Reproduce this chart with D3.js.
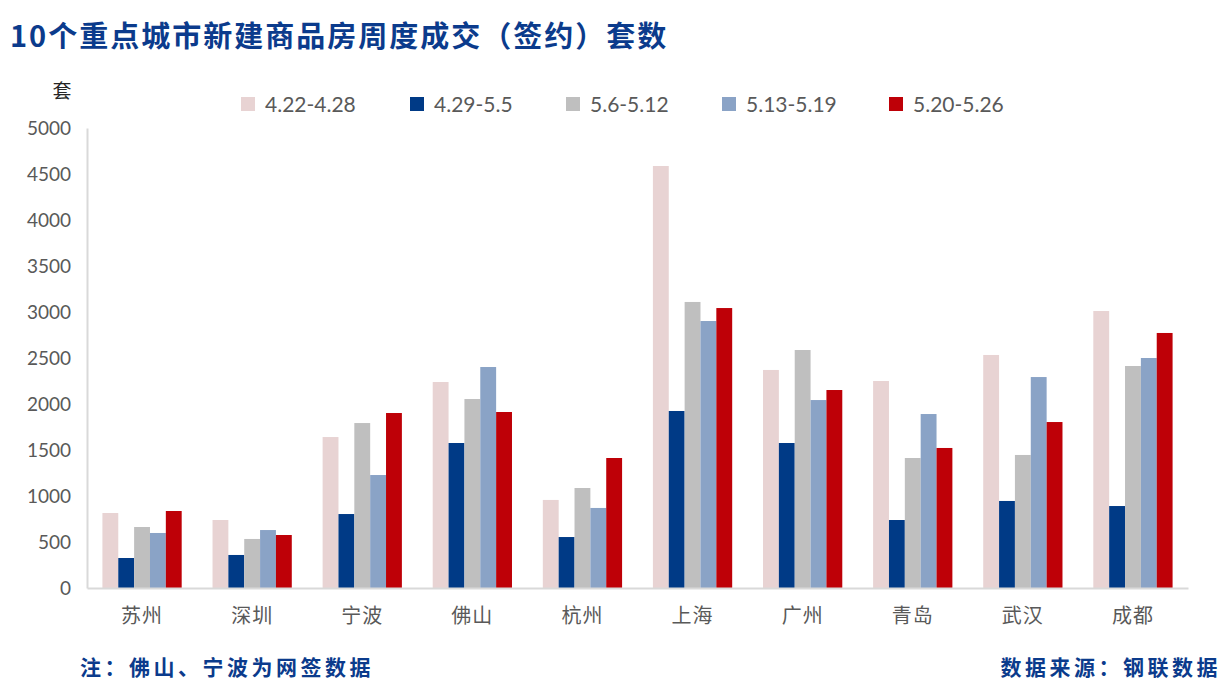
<!DOCTYPE html>
<html>
<head>
<meta charset="utf-8">
<script src="https://cdn.jsdelivr.net/npm/d3@7"></script>
<style>
  body { margin: 0; background: #fff; }
  svg { display: block; }
</style>
</head>
<body>
<div id="chart"></div>
<script>
// data
const cities = ['苏州', '深圳', '宁波', '佛山', '杭州', '上海', '广州', '青岛', '武汉', '成都'];
const weeks = ['4.22-4.28', '4.29-5.5', '5.6-5.12', '5.13-5.19', '5.20-5.26'];
const w0422 = [815, 739, 1641, 2239, 957, 4587, 2370, 2250, 2533, 3011];
const w0429 = [326, 359, 804, 1576, 554, 1924, 1576, 739, 946, 891];
const w0506 = [663, 533, 1793, 2054, 1087, 3109, 2587, 1413, 1446, 2413];
const w0513 = [598, 630, 1228, 2402, 870, 2902, 2043, 1891, 2293, 2500];
const w0520 = [837, 576, 1902, 1913, 1413, 3043, 2152, 1522, 1804, 2772];
const yTicks = [0, 500, 1000, 1500, 2000, 2500, 3000, 3500, 4000, 4500, 5000];

const seriesValues = [w0422, w0429, w0506, w0513, w0520];
const colors = ['#e8d3d3', '#003a86', '#bfbfbf', '#8aa3c6', '#be0007'];

const width = 1222, height = 681;
const margin = { left: 87, right: 34, top: 128, bottom: 93 };
const cjk = '"Noto Sans CJK SC", sans-serif';
const latin = 'Lato, "Noto Sans", sans-serif';

const svg = d3.select('#chart').append('svg')
  .attr('width', width)
  .attr('height', height);

const x = d3.scaleBand()
  .domain(cities)
  .range([margin.left, width - margin.right])
  .paddingInner(0.28)
  .paddingOuter(0.14);

const xInner = d3.scaleBand()
  .domain(weeks)
  .range([0, x.bandwidth()]);

const y = d3.scaleLinear()
  .domain([0, 5000])
  .range([height - margin.bottom, margin.top]);

// title
svg.append('text')
  .attr('x', 10)
  .attr('y', 47)
  .style('font-family', cjk)
  .style('font-size', '29px')
  .style('font-weight', 'bold')
  .style('letter-spacing', '2px')
  .style('fill', '#0b3b8c')
  .text('10个重点城市新建商品房周度成交（签约）套数');

// unit
svg.append('text')
  .attr('x', 62)
  .attr('y', 98)
  .attr('text-anchor', 'middle')
  .style('font-family', cjk)
  .style('font-size', '19px')
  .style('fill', '#262626')
  .text('套');

// bars
const groups = svg.append('g').selectAll('g')
  .data(weeks)
  .enter()
  .append('g')
  .style('fill', (d, i) => colors[i]);

groups.selectAll('rect')
  .data((d, i) => seriesValues[i].map((v, j) => ({ week: d, city: cities[j], value: v })))
  .enter()
  .append('rect')
  .attr('x', d => x(d.city) + xInner(d.week))
  .attr('width', xInner.bandwidth())
  .attr('y', d => y(d.value))
  .attr('height', d => y(0) - y(d.value));

// y axis
const yAxis = svg.append('g')
  .attr('transform', `translate(${margin.left},0)`)
  .call(d3.axisLeft(y).tickValues(yTicks).tickFormat(d3.format('d')).tickSize(0).tickPadding(16));
yAxis.select('.domain').attr('stroke', '#d9d9d9').attr('stroke-width', 2);
yAxis.selectAll('text')
  .style('font-family', latin)
  .style('font-size', '19px')
  .style('fill', '#595959');

// x axis
const xAxis = svg.append('g')
  .attr('transform', `translate(0,${y(0)})`)
  .call(d3.axisBottom(x).tickSize(0).tickPadding(21));
xAxis.select('.domain').attr('stroke', '#d9d9d9').attr('stroke-width', 2);
xAxis.selectAll('text')
  .style('font-family', cjk)
  .style('font-size', '20px')
  .style('letter-spacing', '1px')
  .style('fill', '#595959');

// legend
const legendX = [241, 410, 566, 722, 889];
const legend = svg.append('g').selectAll('g')
  .data(weeks)
  .enter()
  .append('g')
  .attr('transform', (d, i) => `translate(${legendX[i]},97)`);
legend.append('rect')
  .attr('width', 14)
  .attr('height', 14)
  .style('fill', (d, i) => colors[i]);
legend.append('text')
  .attr('x', 24)
  .attr('y', 15)
  .style('font-family', latin)
  .style('font-size', '21px')
  .style('fill', '#595959')
  .text(d => d);

// footer
svg.append('text')
  .attr('x', 80)
  .attr('y', 675)
  .style('font-family', cjk)
  .style('font-size', '21px')
  .style('font-weight', 'bold')
  .style('letter-spacing', '3.5px')
  .style('fill', '#0b3b8c')
  .text('注：佛山、宁波为网签数据');

svg.append('text')
  .attr('x', 1221)
  .attr('y', 675)
  .attr('text-anchor', 'end')
  .style('font-family', cjk)
  .style('font-size', '21px')
  .style('font-weight', 'bold')
  .style('letter-spacing', '3.5px')
  .style('fill', '#0b3b8c')
  .text('数据来源：钢联数据');
</script>
</body>
</html>
